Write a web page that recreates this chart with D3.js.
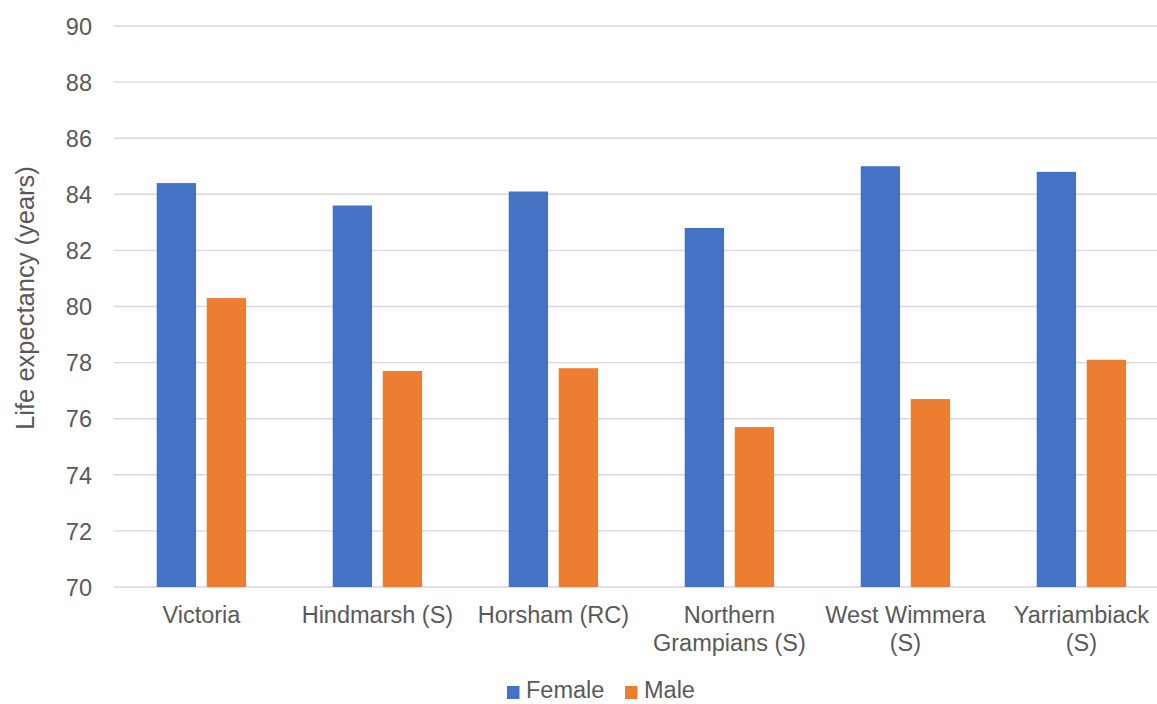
<!DOCTYPE html>
<html>
<head>
<meta charset="utf-8">
<script src="https://cdn.jsdelivr.net/npm/d3@7"></script>
<style>
  html, body { margin: 0; padding: 0; background: #fff; }
  svg { display: block; font-family: "Liberation Sans", Arial, sans-serif; }
</style>
</head>
<body>
<svg id="chart" width="1157" height="704"></svg>
<script>
const categories = ["Victoria", "Hindmarsh (S)", "Horsham (RC)", "Northern Grampians (S)", "West Wimmera (S)", "Yarriambiack (S)"];
const categoryLabelLines = [["Victoria"], ["Hindmarsh (S)"], ["Horsham (RC)"], ["Northern", "Grampians (S)"], ["West Wimmera", "(S)"], ["Yarriambiack", "(S)"]];
const seriesNames = ["Female", "Male"];
const femaleValues = [84.4, 83.6, 84.1, 82.8, 85.0, 84.8];
const maleValues = [80.3, 77.7, 77.8, 75.7, 76.7, 78.1];
const yTicks = [70, 72, 74, 76, 78, 80, 82, 84, 86, 88, 90];
const yTitle = "Life expectancy (years)";
const colors = ["#4472C4", "#ED7D31"];

const seriesValues = [femaleValues, maleValues];
const svg = d3.select("#chart");
const textColor = "#595959";
const fontSize = 23.5;

const x0 = d3.scaleBand().domain(categories).range([113.4, 1169.4]).padding(0);
const x1 = d3.scaleBand().domain(seriesNames).range([43.3, 132.7]).paddingInner(0.214).paddingOuter(0);
const y = d3.scaleLinear().domain([70, 90]).range([587, 26]);

// gridlines
svg.append("g").selectAll("line").data(yTicks).join("line")
  .attr("x1", 113.4).attr("x2", 1169.4)
  .attr("y1", d => y(d)).attr("y2", d => y(d))
  .attr("stroke", "#D9D9D9").attr("stroke-width", 1.4);

// y axis labels
const yAxis = d3.axisLeft(y).tickValues(yTicks).tickSize(0).tickPadding(0).tickFormat(d3.format("d"));
const yg = svg.append("g").attr("transform", "translate(92,0)").call(yAxis);
yg.select(".domain").remove();
yg.selectAll("text").attr("fill", textColor).attr("font-size", fontSize).attr("font-family", "Liberation Sans, Arial, sans-serif").attr("dy", "0.35em");

// bars
const groups = svg.append("g").selectAll("g").data(categories).join("g")
  .attr("transform", d => `translate(${x0(d)},0)`);
groups.selectAll("rect").data((d, i) => seriesNames.map((s, j) => ({ s, v: seriesValues[j][i], j })))
  .join("rect")
  .attr("x", d => x1(d.s))
  .attr("width", x1.bandwidth())
  .attr("y", d => y(d.v))
  .attr("height", d => y(70) - y(d.v))
  .attr("fill", d => colors[d.j]);

// x axis labels
const xg = svg.append("g");
categories.forEach((c, i) => {
  const t = xg.append("text")
    .attr("x", x0(c) + x0.bandwidth() / 2)
    .attr("y", 623)
    .attr("text-anchor", "middle")
    .attr("fill", textColor)
    .attr("font-size", fontSize);
  categoryLabelLines[i].forEach((line, k) => {
    t.append("tspan").attr("x", x0(c) + x0.bandwidth() / 2).attr("dy", k === 0 ? 0 : 27.5).text(line);
  });
});

// y title
svg.append("text")
  .attr("transform", "translate(25,298) rotate(-90)")
  .attr("text-anchor", "middle")
  .attr("dominant-baseline", "central")
  .attr("fill", textColor)
  .attr("font-size", 25.5)
  .text(yTitle);

// legend
const legendItems = [{ name: seriesNames[0], x: 507 }, { name: seriesNames[1], x: 625 }];
const lg = svg.append("g");
legendItems.forEach((it, i) => {
  lg.append("rect").attr("x", it.x).attr("y", 686).attr("width", 12.5).attr("height", 13).attr("fill", colors[i]);
  lg.append("text").attr("x", it.x + 19).attr("y", 698).attr("fill", textColor).attr("font-size", fontSize).text(it.name);
});
</script>
</body>
</html>
